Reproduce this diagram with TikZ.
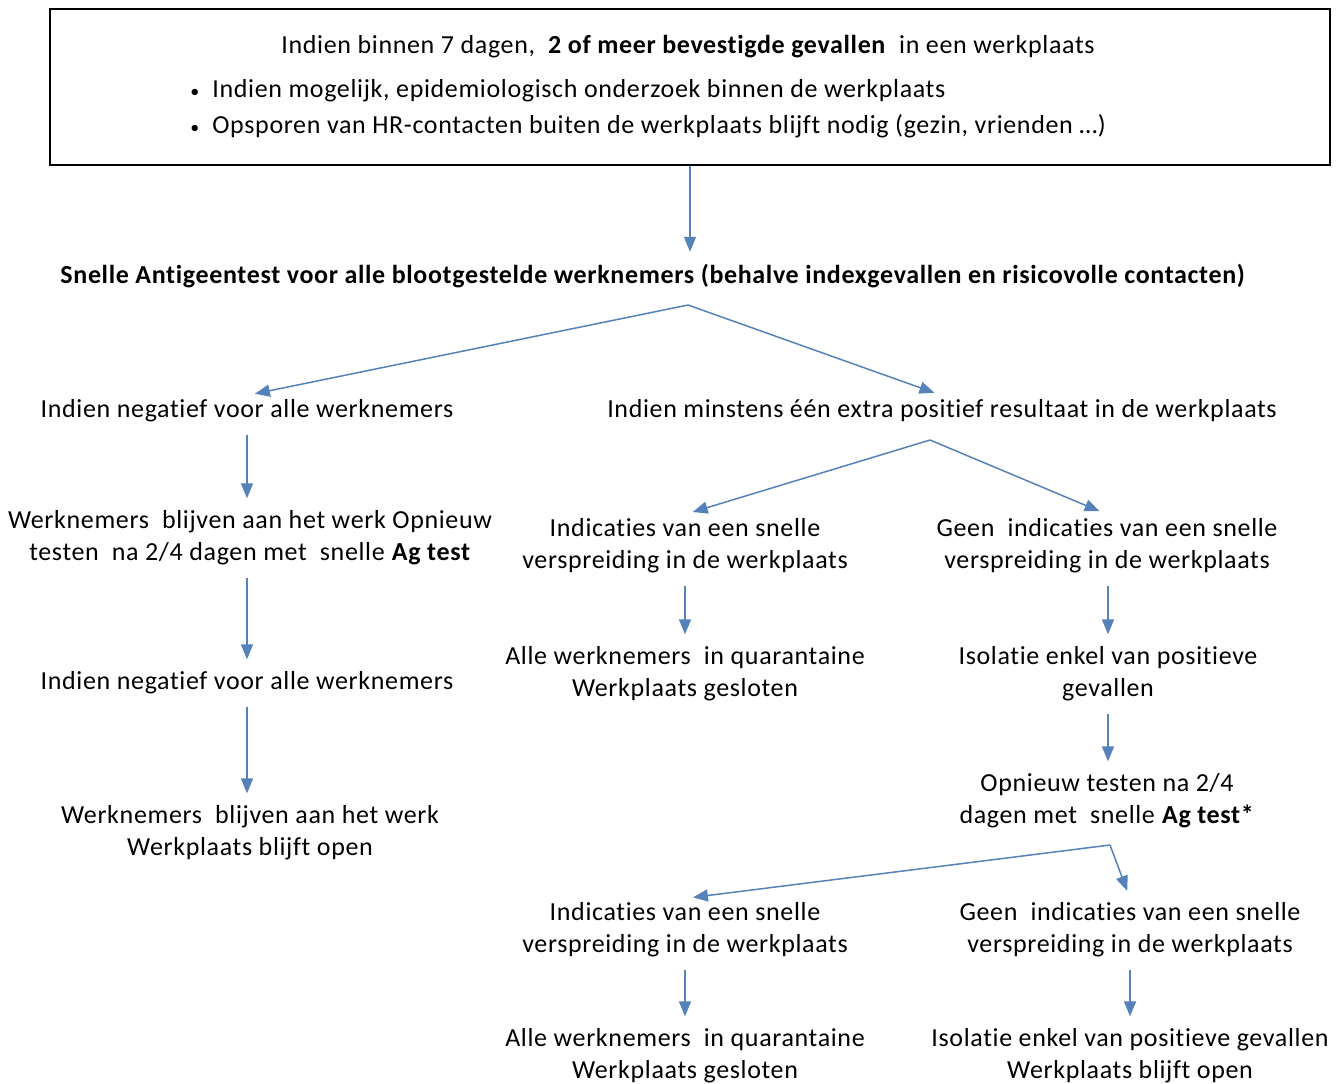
\documentclass[tikz,border=0pt]{standalone}
\usepackage{fontspec}
\setmainfont{Carlito}[LetterSpace=2.5, Ligatures=NoCommon]
\usetikzlibrary{arrows.meta, positioning, calc}
\definecolor{arrowblue}{RGB}{84,130,185}

\begin{document}
\begin{tikzpicture}[x=0.5pt,y=-0.5pt,
            txt/.style={align=center, inner sep=2pt, font=\fontsize{13}{16}\selectfont},
            link/.style={-{Triangle[length=7.5pt,width=6pt]}, draw=arrowblue, line width=0.75pt,
                         shorten >=4pt, shorten <=4pt},
            fork/.style={link, shorten <=0pt}]
            \useasboundingbox (0,0) rectangle (1343,1083);

            % top box
            \node [draw=black, line width=1pt, minimum width=640pt, minimum height=78pt, inner sep=0] at (690,87) (box) {};
            \node [txt] at (688,47) (head) {Indien binnen 7 dagen,~ \textbf{2 of meer bevestigde gevallen}~ in een werkplaats};
            \node [txt, anchor=west] at (186,91) (b1) {{\small\textbullet}\hspace{0.5em}Indien mogelijk, epidemiologisch onderzoek binnen de werkplaats};
            \node [txt, anchor=west] at (186,126) (b2) {{\small\textbullet}\hspace{0.5em}Opsporen van HR-contacten buiten de werkplaats blijft nodig (gezin, vrienden \dots)};

            \node [txt] at (653,276) (snel) {\textbf{Snelle Antigeentest voor alle blootgestelde werknemers (behalve indexgevallen en risicovolle contacten)}};

            % left column
            \node [txt] at (247,411) (neg1) {Indien negatief voor alle werknemers};
            \node [txt] at (250,538) (wk1) {Werknemers~ blijven aan het werk Opnieuw\\testen~ na 2/4 dagen met~ snelle \textbf{Ag test}};
            \node [txt] at (247,683) (neg2) {Indien negatief voor alle werknemers};
            \node [txt] at (250,833) (wk2) {Werknemers~ blijven aan het werk\\Werkplaats blijft open};

            % right part
            \node [txt] at (942,411) (pos1) {Indien minstens één extra positief resultaat in de werkplaats};
            \node [txt] at (685,546) (spr1) {Indicaties van een snelle\\verspreiding in de werkplaats};
            \node [txt] at (1107,546) (nospr1) {Geen~ indicaties van een snelle\\verspreiding in de werkplaats};
            \node [txt] at (685,674) (q1) {Alle werknemers~ in quarantaine\\Werkplaats gesloten};
            \node [txt] at (1108,674) (iso1) {Isolatie enkel van positieve\\gevallen};
            \node [txt] at (1107,801) (ag2) {Opnieuw testen na 2/4\\dagen met~ snelle \textbf{Ag test*}};
            \node [txt] at (685,930) (spr2) {Indicaties van een snelle\\verspreiding in de werkplaats};
            \node [txt] at (1130,930) (nospr2) {Geen~ indicaties van een snelle\\verspreiding in de werkplaats};
            \node [txt] at (685,1056) (q2) {Alle werknemers~ in quarantaine\\Werkplaats gesloten};
            \node [txt] at (1130,1056) (iso2) {Isolatie enkel van positieve gevallen\\Werkplaats blijft open};

            % split points
            \coordinate (split1) at (688,305);
            \coordinate (split2) at (930,440);
            \coordinate (split3) at (1110,845);

            \draw [link, shorten <=0pt] (box.south) -- (box.south |- snel.north);
            \draw [fork] (split1) -- (neg1.north);
            \draw [fork] (split1) -- (pos1.north);

            \draw [link] (neg1.south) -- (neg1.south |- wk1.north);
            \draw [link] (neg1.south |- wk1.south) -- (neg2.north);
            \draw [link] (neg2.south) -- (neg2.south |- wk2.north);

            \draw [fork] (split2) -- (spr1.north);
            \draw [fork] (split2) -- (nospr1.north);
            \draw [link] (spr1.south) -- (q1.north);
            \draw [link] (nospr1.south -| iso1) -- (iso1.north);
            \draw [link] (iso1) -- (iso1 |- ag2.north);

            \draw [fork] (split3) -- (spr2.north);
            \draw [fork] (split3) -- (nospr2.north);
            \draw [link] (spr2) -- (q2);
            \draw [link] (nospr2) -- (iso2);
\end{tikzpicture}
\end{document}
